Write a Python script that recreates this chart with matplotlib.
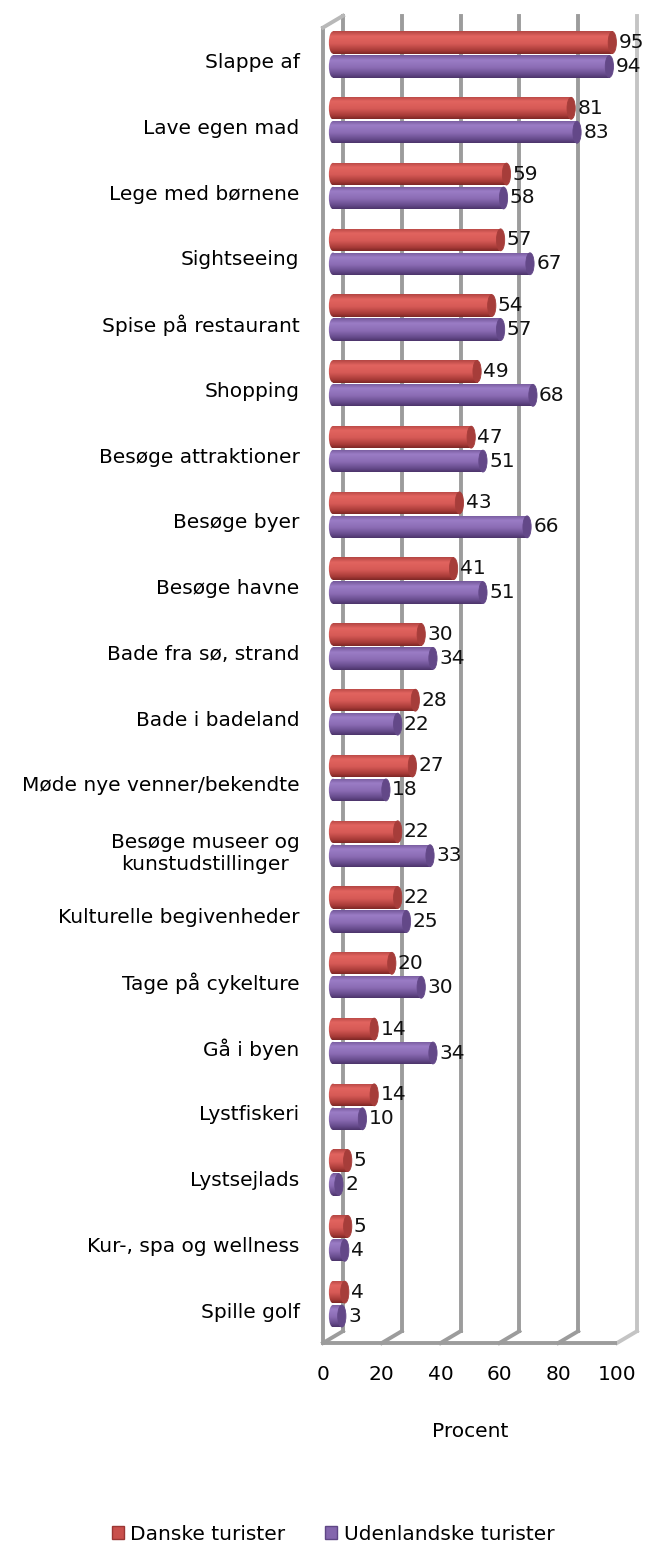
import numpy as np
import matplotlib
matplotlib.use("Agg")
import matplotlib.pyplot as plt
from matplotlib.transforms import offset_copy
from matplotlib.patches import Ellipse, Patch
from matplotlib.colors import LinearSegmentedColormap

categories = ["Slappe af", "Lave egen mad", "Lege med børnene", "Sightseeing",
              "Spise på restaurant", "Shopping", "Besøge attraktioner", "Besøge byer",
              "Besøge havne", "Bade fra sø, strand", "Bade i badeland",
              "Møde nye venner/bekendte", "Besøge museer og\nkunstudstillinger",
              "Kulturelle begivenheder", "Tage på cykelture", "Gå i byen",
              "Lystfiskeri", "Lystsejlads", "Kur-, spa og wellness", "Spille golf"]
danske = [95, 81, 59, 57, 54, 49, 47, 43, 41, 30, 28, 27, 22, 22, 20, 14, 14, 5, 5, 4]
udenlandske = [94, 83, 58, 67, 57, 68, 51, 66, 51, 34, 22, 18, 33, 25, 30, 34, 10, 2, 4, 3]
series_names = ["Danske turister", "Udenlandske turister"]
xticks = [0, 20, 40, 60, 80, 100]

plt.rcParams['font.family'] = ['DejaVu Sans']
FS = 14.5

fig = plt.figure(figsize=(6.5, 15.46), dpi=100)
W, H = 650, 1546
x0, x1 = 323, 617
ytop, ybot = 27.6, 1343
ax = fig.add_axes([x0 / W, 1 - ybot / H, (x1 - x0) / W, (ybot - ytop) / H])
ax.set_xlim(0, 100)
ax.set_ylim(19.5, -0.5)
for s in ax.spines.values():
    s.set_visible(False)

back = offset_copy(ax.transData, fig=fig, x=20, y=12, units='dots')
mid = offset_copy(ax.transData, fig=fig, x=10, y=6, units='dots')

wall = '#9c9c9c'
lw = 2.8
# back wall gridlines
for v in xticks:
    c = wall if v < 100 else '#c4c4c4'
    ax.plot([v, v], [-0.5, 19.5], color=c, lw=lw, transform=back, clip_on=False, zorder=1)
# floor diagonals
for v in xticks:
    c = wall if v < 100 else '#c4c4c4'
    ax.plot([v, v + 6.8], [19.5, 19.5 - 0.18], color=c, lw=lw, clip_on=False, zorder=1)
# front floor edge and left wall front edge
ax.plot([0, 100], [19.5, 19.5], color=wall, lw=lw, clip_on=False, zorder=1,
        solid_capstyle='butt')
ax.plot([0, 0], [-0.5, 19.5], color=wall, lw=lw, clip_on=False, zorder=1)
ax.plot([0, 6.8], [-0.5, -0.5 - 0.18], color='#b8b8b8', lw=lw, clip_on=False, zorder=1)

red_cmap = LinearSegmentedColormap.from_list('r', [
    (0.0, '#b34643'), (0.22, '#e2645f'), (0.55, '#d65a56'), (0.85, '#a83b38'), (1.0, '#7d2725')])
pur_cmap = LinearSegmentedColormap.from_list('p', [
    (0.0, '#735799'), (0.22, '#9b7dc6'), (0.55, '#8b6cb4'), (0.85, '#654a8a'), (1.0, '#4c346a')])
cap_cols = ['#a63d3a', '#634888']

h = 0.34
off = 0.182
ypos = np.arange(len(categories))
grad = np.linspace(0, 1, 64).reshape(-1, 1)
capw = 2.8

for vals, dy, cmap, capc in [(danske, -off, red_cmap, cap_cols[0]),
                             (udenlandske, off, pur_cmap, cap_cols[1])]:
    bars = ax.barh(ypos + dy, vals, height=h, color='none', edgecolor='none',
                   transform=mid, zorder=3)
    for rect, v, y in zip(bars, vals, ypos + dy):
        im = ax.imshow(grad, cmap=cmap, aspect='auto', origin='upper',
                       extent=(0, v, y + h / 2, y - h / 2), transform=mid,
                       zorder=3, interpolation='bilinear')
        im.set_clip_path(rect)
        # rounded start
        e0 = Ellipse((0, y), capw, h, transform=mid, facecolor='none', edgecolor='none')
        ax.add_patch(e0)
        im2 = ax.imshow(grad, cmap=cmap, aspect='auto', origin='upper',
                        extent=(-capw, capw, y + h / 2, y - h / 2), transform=mid,
                        zorder=3, interpolation='bilinear')
        im2.set_clip_path(e0)
        # end cap
        ax.add_patch(Ellipse((v, y), capw, h * 0.98, transform=mid, facecolor=capc,
                             edgecolor=capc, lw=0.6, zorder=4))
        ax.annotate(f"{v}", (v + capw / 2, y), xycoords=mid, xytext=(1.5, 0),
                    textcoords='offset points', ha='left', va='center',
                    fontsize=FS, color='#111111', zorder=5, annotation_clip=False)

ax.set_xlim(0, 100)
ax.set_ylim(19.5, -0.5)
ax.set_yticks(ypos)
ax.set_yticklabels(categories, fontsize=FS, multialignment='center')
ax.set_xticks(xticks)
ax.set_xticklabels([str(t) for t in xticks], fontsize=FS)
ax.tick_params(axis='both', length=0)
ax.tick_params(axis='y', pad=17)
ax.tick_params(axis='x', pad=16)
ax.set_xlabel("Procent", fontsize=FS, labelpad=27)
ax.set_facecolor('none')

handles = [Patch(facecolor='#c9504c', edgecolor='#9b3633'),
           Patch(facecolor='#8466ad', edgecolor='#5f4685')]
fig.legend(handles, series_names, loc='center', bbox_to_anchor=(333 / W, 1 - 1534 / H),
           ncol=2, frameon=False, fontsize=FS, handlelength=0.6, handleheight=0.6,
           handletextpad=0.3, columnspacing=2.0)

fig.savefig("out.png", dpi=100)
